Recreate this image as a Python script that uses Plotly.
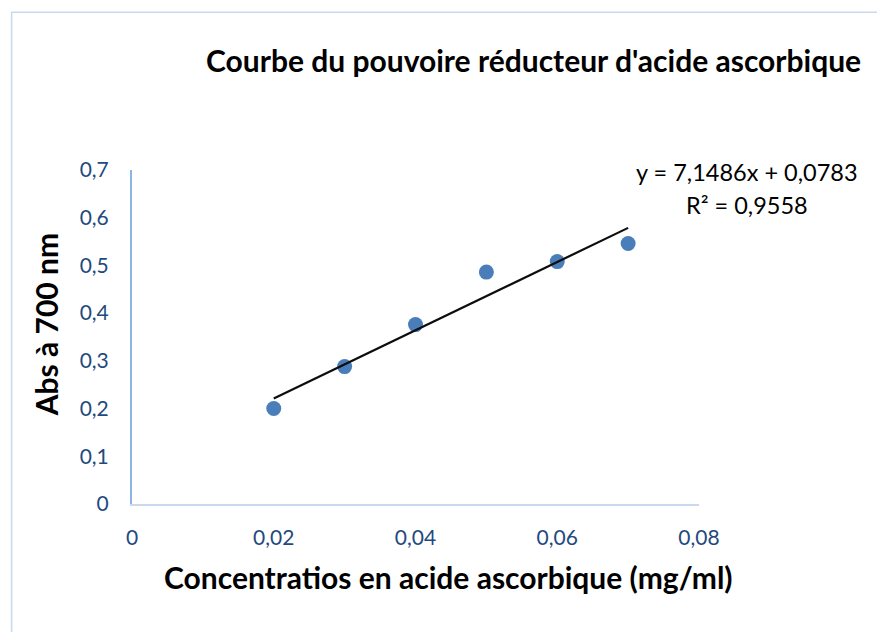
import plotly.graph_objects as go

# Reducing power of ascorbic acid: absorbance at 700 nm vs concentration
concentration = [0.02, 0.03, 0.04, 0.05, 0.06, 0.07]          # mg/ml
absorbance = [0.200, 0.288, 0.376, 0.486, 0.508, 0.546]        # Abs 700 nm

# Linear trendline coefficients and determination coefficient
slope = 7.1486
intercept = 0.0783
r_squared = 0.9558

x_ticks = [0, 0.02, 0.04, 0.06, 0.08]
x_tick_labels = ["0", "0,02", "0,04", "0,06", "0,08"]
y_ticks = [0, 0.1, 0.2, 0.3, 0.4, 0.5, 0.6, 0.7]
y_tick_labels = ["0", "0,1", "0,2", "0,3", "0,4", "0,5", "0,6", "0,7"]

W, H = 877, 632
L, R, T, B = 131.5, 178, 170, 127.5
pw, ph = W - L - R, H - T - B


def px(x):
    return (x - L) / pw


def py(y):
    return (H - B - y) / ph


def fr(v, n):
    return f"{v:.{n}f}".replace(".", ",")


FONT = "Lato, Carlito, Calibri, sans-serif"
TICK_COLOR = "#1F4A7E"

fig = go.Figure()

trend_x = [min(concentration), max(concentration)]
trend_y = [slope * x + intercept for x in trend_x]
fig.add_trace(go.Scatter(
    x=concentration, y=absorbance, mode="markers",
    marker=dict(size=15, color="#4A7EBB", line=dict(width=0)),
    showlegend=False,
))
fig.add_trace(go.Scatter(
    x=trend_x, y=trend_y, mode="lines",
    line=dict(color="#0D0D0D", width=2.2),
    showlegend=False,
))

fig.update_layout(
    width=W, height=H,
    margin=dict(l=L, r=R, t=T, b=B, pad=0),
    paper_bgcolor="white", plot_bgcolor="white",
    font=dict(family=FONT, color="black"),
    xaxis=dict(
        range=[0, 0.08], tickvals=x_ticks, ticktext=x_tick_labels,
        showgrid=False, zeroline=False, showline=True,
        linecolor="#C9DAF0", linewidth=2,
        ticks="", ticklabelstandoff=14,
        tickfont=dict(size=21, color=TICK_COLOR, family=FONT),
    ),
    yaxis=dict(
        range=[0, 0.7], tickvals=y_ticks, ticktext=y_tick_labels,
        showgrid=False, zeroline=False, showline=True,
        linecolor="#8DB4E2", linewidth=2,
        ticks="", ticklabelstandoff=17,
        tickfont=dict(size=21, color=TICK_COLOR, family=FONT),
    ),
    shapes=[dict(
        type="rect", xref="paper", yref="paper",
        x0=px(11), x1=px(W + 40), y0=py(H + 40), y1=py(12),
        line=dict(color="#C6D9F1", width=1.5), fillcolor="rgba(0,0,0,0)",
        layer="below",
    )],
    annotations=[
        dict(text="<b>Courbe du pouvoire réducteur d'acide ascorbique</b>",
             x=px(533), y=py(60), xref="paper", yref="paper",
             xanchor="center", yanchor="middle", showarrow=False,
             font=dict(size=30, color="black", family=FONT)),
        dict(text="<b>Concentratios en acide ascorbique (mg/ml)</b>",
             x=px(448), y=py(578), xref="paper", yref="paper",
             xanchor="center", yanchor="middle", showarrow=False,
             font=dict(size=30, color="black", family=FONT)),
        dict(text="<b>Abs à 700 nm</b>", textangle=-90,
             x=px(45), y=py(325), xref="paper", yref="paper",
             xanchor="center", yanchor="middle", showarrow=False,
             font=dict(size=30, color="black", family=FONT)),
        dict(text=f"y = {fr(slope, 4)}x + {fr(intercept, 4)}",
             x=px(747), y=py(172), xref="paper", yref="paper",
             xanchor="center", yanchor="middle", showarrow=False,
             font=dict(size=23.5, color="black", family=FONT)),
        dict(text=f"R² = {fr(r_squared, 4)}",
             x=px(747), y=py(205), xref="paper", yref="paper",
             xanchor="center", yanchor="middle", showarrow=False,
             font=dict(size=23.5, color="black", family=FONT)),
    ],
)

fig.write_html("out.html")
